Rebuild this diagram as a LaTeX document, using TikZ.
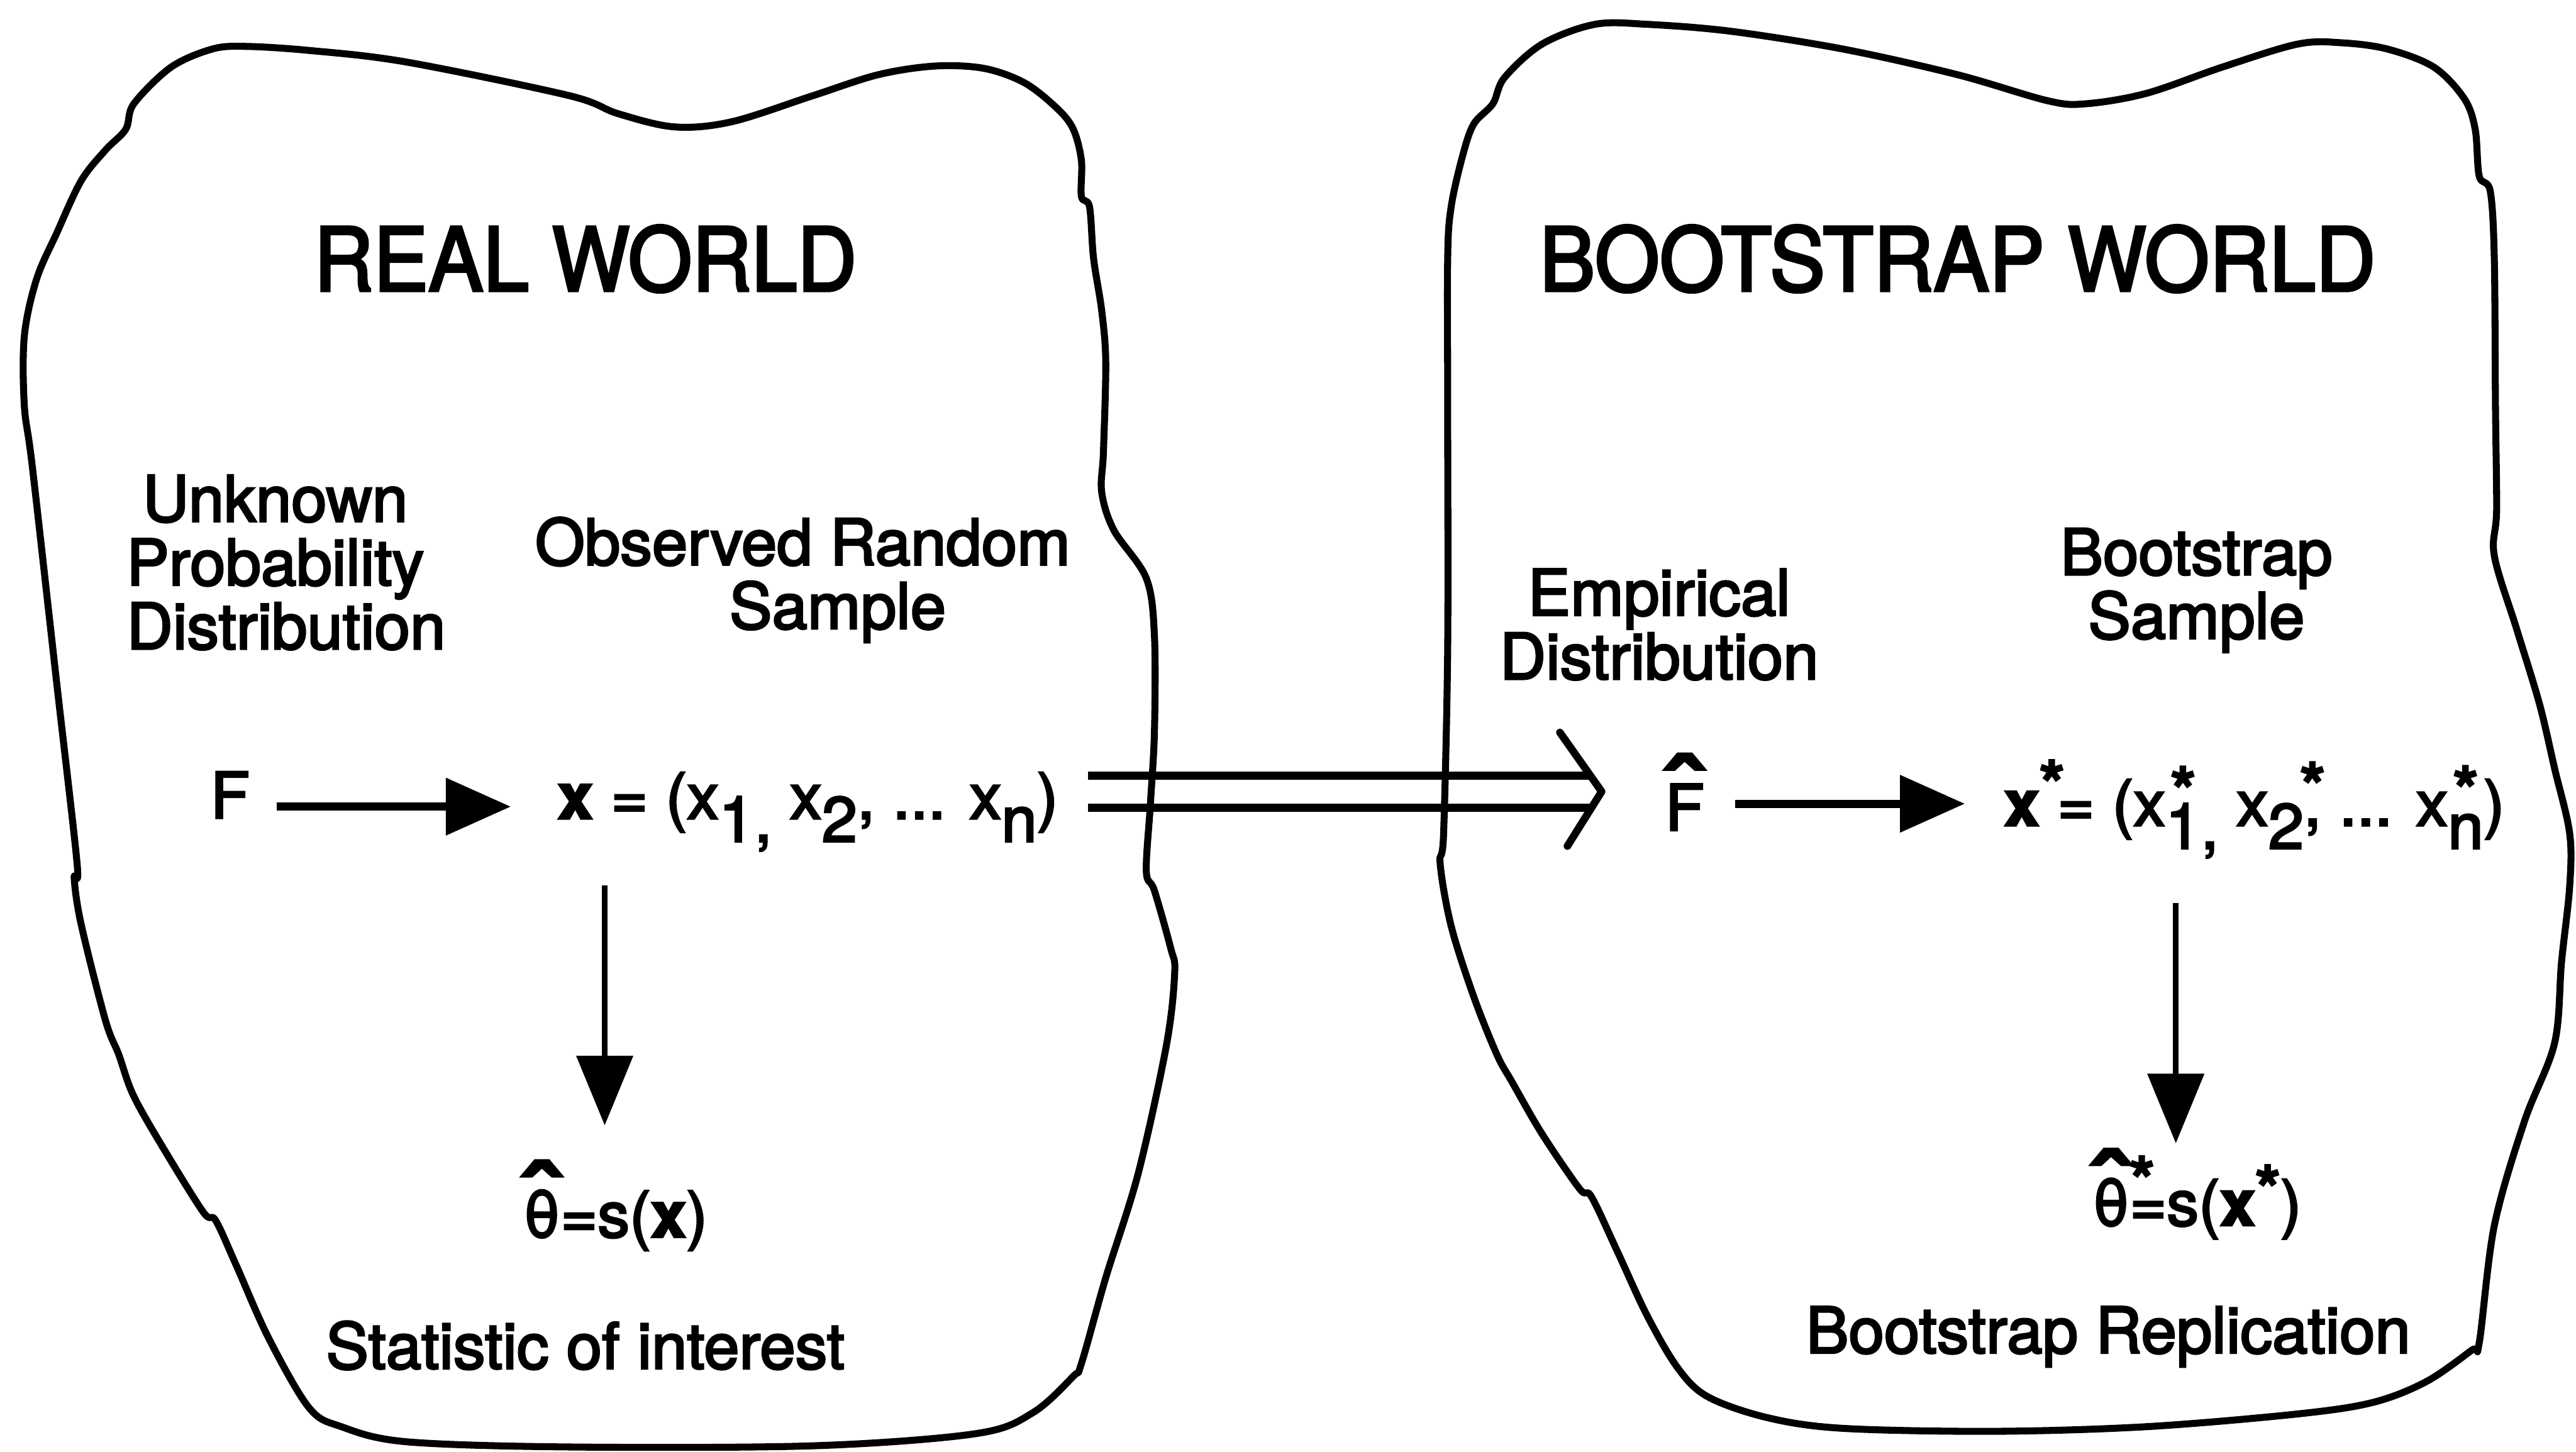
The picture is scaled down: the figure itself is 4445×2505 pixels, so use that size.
\documentclass[tikz,border=0pt]{standalone}
\usepackage{fontspec}
\setmainfont[FakeBold=3]{TeX Gyre Heros}
\usepackage{graphicx}
\usetikzlibrary{arrows.meta,calc}
\newcommand\lowr[1]{\raisebox{-0.36em}{#1}}
\newcommand\hatted[1]{\ooalign{#1\cr\hidewidth\raisebox{0.03em}{\scalebox{2.1}[1.6]{ˆ}}\hidewidth\cr}}
\newcommand\starat[2]{\ooalign{#2\cr\hidewidth\raisebox{#1}{\textbf{*}}\hidewidth\cr}}
\tikzset{
  lbl/.style={inner sep=0pt, anchor=base, font=\fontsize{31.3}{31.3}\selectfont},
  lblm/.style={lbl, align=center},
  ttl/.style={inner sep=0pt, anchor=base, font=\fontsize{43.2}{43.2}\selectfont},
  blob/.style={line width=0.12cm, line join=round},
  harr/.style={line width=0.14cm, -{Triangle[length=1.12cm,width=0.96cm]}},
  varr/.style={line width=0.1cm, -{Triangle[length=1.2cm,width=0.96cm]}},
  dbl/.style={line width=0.14cm},
  chev/.style={line width=0.13cm, line join=round, line cap=round},
}
\begin{document}
\begin{tikzpicture}[x=0.01cm, y=-0.01cm]
\useasboundingbox (0,0) rectangle (4445,2505);

% left blob
\draw[blob] plot[smooth cycle, tension=0.55] coordinates {
(217,223) (231,179) (295,116) (365,85) (421,80) (533,87) (701,107) (982,165)
(1066,196) (1164,219) (1263,210) (1403,165) (1515,129) (1613,114) (1698,118)
(1768,143) (1824,187) (1852,223) (1866,277) (1866,339) (1880,357) (1887,446)
(1901,536) (1908,625) (1904,780) (1901,849) (1922,915) (1978,998) (1992,1097)
(1992,1263) (1985,1388) (1978,1504) (1992,1537) (2020,1636) (2027,1678)
(2013,1802) (1964,2025) (1908,2205) (1866,2353) (1852,2375) (1782,2438)
(1684,2474) (1403,2495) (982,2497) (701,2488) (589,2462) (533,2429) (463,2308)
(407,2182) (372,2106) (351,2092) (281,1980) (230,1890) (205,1820) (182,1761)
(140,1595) (128,1515) (133,1490) (98,1180) (56,807) (42,700) (42,580) (63,482)
(98,402) (140,312) (182,259)};

% right blob
\draw[blob] plot[smooth cycle, tension=0.55] coordinates {
(2576,179) (2596,134) (2661,76) (2752,42) (2843,42) (2987,54) (3182,85)
(3378,129) (3534,174) (3600,179) (3704,161) (3834,116) (3965,76) (4043,74)
(4121,85) (4200,116) (4252,170) (4271,223) (4278,304) (4297,330) (4304,446)
(4306,700) (4308,880) (4304,959) (4343,1087) (4382,1215) (4408,1326)
(4434,1438) (4434,1530) (4420,1660) (4408,1800) (4356,1935) (4304,2115)
(4278,2317) (4265,2330) (4187,2384) (4095,2420) (3965,2440) (3704,2462)
(3443,2470) (3182,2465) (3052,2447) (2948,2411) (2896,2362) (2843,2272)
(2791,2160) (2746,2065) (2726,2052) (2661,1957) (2609,1867) (2583,1820)
(2543,1720) (2504,1598) (2485,1490) (2491,1438) (2498,1119) (2498,700)
(2498,446) (2504,357) (2524,268) (2543,214)};

% titles and labels (multi-line nodes are anchored at the baseline of their last line)
\node[ttl] (realw) at (1010,502) {\scalebox{0.935}[1]{REAL WORLD}};
\node[ttl] (bootw) at (3378,502) {\scalebox{0.945}[1]{BOOTSTRAP WORLD}};
\node[lblm] (unk) at (475,1120) {Unknown\\Probability\hspace*{0.47em}\\\hspace*{0.34em}Distribution};
\node[lblm] (obs) at (1385,1085) {Observed Random\\\hspace*{1.1em}Sample};
\node[lblm] (emp) at (2863,1172) {Empirical\\Distribution};
\node[lblm] (bss) at (3790,1102) {Bootstrap\\Sample};

% formulas
\node[lbl] (F) at (397,1412) {F};
\node[lbl] (xs) at (1394,1413) {\textbf{x} = (x\lowr{1,} x\lowr{2}, ... x\lowr{n})};
\node[lbl] (theta) at (1062,2135) {\hatted{θ}=s(\textbf{x})};
\node[lbl] (stat) at (1010,2362) {Statistic of interest};

\node[lbl] (Fhat) at (2907,1433) {\hatted{F}};
\node[lbl] (xstar) at (3890,1425) {\textbf{x}\rlap{\raisebox{0.3em}{\textbf{*}}} = (x\lowr{\starat{0.56em}{1},} x\lowr{2}\starat{0.27em}{,} ... x\lowr{\starat{0.57em}{n}})};
\node[lbl] (thetastar) at (3791,2115) {\hatted{θ}\rlap{\raisebox{0.36em}{\textbf{*}}}=s(\textbf{x}\raisebox{0.22em}{\textbf{*}})};
\node[lbl] (brep) at (3638,2335) {Bootstrap Replication};

% horizontal arrows
\draw[harr] ([shift={(46,-20)}]F.base east) -- ([shift={(-80,-21)}]xs.base west);
\draw[harr] ([shift={(53,-46)}]Fhat.base east) -- ([shift={(-67,-38)}]xstar.base west);

% vertical arrows
\coordinate (v1s) at ([shift={(82,115)}]xs.base west);
\coordinate (v1e) at ([shift={(0,-193)}]theta.base);
\draw[varr] (v1s) -- (v1s |- v1e);
\coordinate (v2s) at ([shift={(297,133)}]xstar.base west);
\coordinate (v2e) at ([shift={(0,-142)}]thetastar.base);
\draw[varr] (v2s) -- (v2s |- v2e);

% double arrow from real world to bootstrap world
\coordinate (dS) at ([shift={(51,-47)}]xs.base east);
\coordinate (dT) at ([shift={(-109,-67)}]Fhat.base west);
\draw[dbl] ($(dS)+(0,-27)$) -- ($(dS -| dT)+(-18,-27)$);
\draw[dbl] ($(dS)+(0,28)$) -- ($(dS -| dT)+(-18,28)$);
\draw[chev] ($(dS -| dT)+(-72,-102)$) -- (dS -| dT) -- ($(dS -| dT)+(-59,94)$);
\end{tikzpicture}
\end{document}
